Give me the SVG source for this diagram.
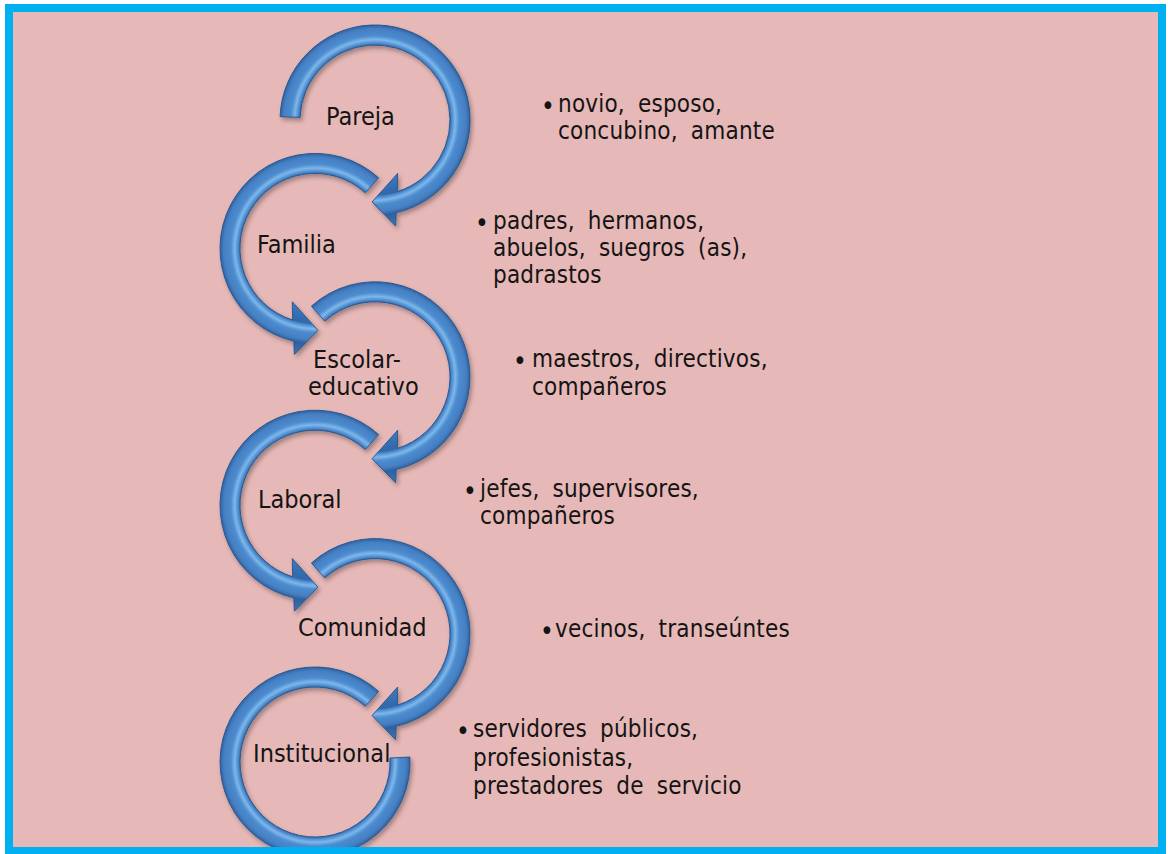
<svg xmlns="http://www.w3.org/2000/svg" xmlns:xlink="http://www.w3.org/1999/xlink" width="1168" height="854" viewBox="0 0 1168 854">
<style>
.arrow{stroke:#2A5890;stroke-width:1;filter:url(#sh)}
.lbl{font-family:"DejaVu Sans Condensed","DejaVu Sans",sans-serif;font-stretch:condensed;font-size:25px;fill:#141414}
.desc{font-family:"DejaVu Sans Condensed","DejaVu Sans",sans-serif;font-stretch:condensed;font-size:24px;fill:#141414;word-spacing:6px;letter-spacing:0.2px}
.bul{font-family:"DejaVu Sans Condensed","DejaVu Sans",sans-serif;font-stretch:condensed;font-size:26px;fill:#141414}
</style>
<defs>
<radialGradient id="gb" gradientUnits="userSpaceOnUse" r="110">
<stop offset="0.5" stop-color="#3F7DC2"/>
<stop offset="0.68" stop-color="#3068AA"/>
<stop offset="0.70" stop-color="#4F8DCF"/>
<stop offset="0.73" stop-color="#7DB7EB"/>
<stop offset="0.765" stop-color="#4D8CCF"/>
<stop offset="0.83" stop-color="#447FC2"/>
<stop offset="0.865" stop-color="#2E609F"/>
<stop offset="1" stop-color="#3D79BD"/>
</radialGradient>
<radialGradient id="g1" xlink:href="#gb" cx="375" cy="120" fx="375" fy="120"/>
<radialGradient id="g2" xlink:href="#gb" cx="315" cy="248.4" fx="315" fy="248.4"/>
<radialGradient id="g3" xlink:href="#gb" cx="375" cy="376.8" fx="375" fy="376.8"/>
<radialGradient id="g4" xlink:href="#gb" cx="315" cy="505.2" fx="315" fy="505.2"/>
<radialGradient id="g5" xlink:href="#gb" cx="375" cy="633.6" fx="375" fy="633.6"/>
<radialGradient id="g6" xlink:href="#gb" cx="315" cy="762" fx="315" fy="762"/>
<filter id="sh" x="-20%" y="-20%" width="140%" height="140%">
<feDropShadow dx="2" dy="3" stdDeviation="2" flood-color="#000" flood-opacity="0.3"/>
</filter>
</defs>
<rect x="0" y="0" width="1168" height="854" fill="#FFFFFF"/>
<rect x="9" y="8" width="1153" height="843" fill="#E6B8B7"/>

<g id="node-pareja">
<path class="arrow" fill="url(#g1)" d="M 280.1 116.7 A 95 95 0 1 1 396.2 212.6 L 395.6 226 L 372.1 201.95 L 397.7 173.4 L 397.3 191.6 A 75 75 0 1 0 300.05 117.4 Z"/>
<text class="lbl" x="326" y="125">Pareja</text>
<text class="bul" x="541" y="115">•</text>
<text class="desc" x="558" y="112">novio, esposo,</text>
<text class="desc" x="558" y="139">concubino, amante</text>
</g>

<g id="node-familia">
<path class="arrow" fill="url(#g2)" d="M 378.6 177.8 A 95 95 0 1 0 293.8 341.0 L 294.4 354.4 L 317.9 330.35 L 292.3 301.8 L 292.7 320.0 A 75 75 0 1 1 365.2 192.7 Z"/>
<text class="lbl" x="257" y="253">Familia</text>
<text class="bul" x="475" y="232">•</text>
<text class="desc" x="493" y="229">padres, hermanos,</text>
<text class="desc" x="493" y="256">abuelos, suegros (as),</text>
<text class="desc" x="493" y="283">padrastos</text>
</g>

<g id="node-escolar">
<path class="arrow" fill="url(#g3)" d="M 311.4 306.2 A 95 95 0 1 1 396.2 469.4 L 395.6 482.8 L 372.1 458.75 L 397.7 430.2 L 397.3 448.4 A 75 75 0 1 0 324.8 321.1 Z"/>
<text class="lbl" x="313" y="368">Escolar-</text>
<text class="lbl" x="308" y="395">educativo</text>
<text class="bul" x="513" y="370">•</text>
<text class="desc" x="532" y="367">maestros, directivos,</text>
<text class="desc" x="532" y="395">compañeros</text>
</g>

<g id="node-laboral">
<path class="arrow" fill="url(#g4)" d="M 378.6 434.6 A 95 95 0 1 0 293.8 597.8 L 294.4 611.2 L 317.9 587.15 L 292.3 558.6 L 292.7 576.8 A 75 75 0 1 1 365.2 449.5 Z"/>
<text class="lbl" x="258" y="508">Laboral</text>
<text class="bul" x="463" y="500">•</text>
<text class="desc" x="480" y="497">jefes, supervisores,</text>
<text class="desc" x="480" y="524">compañeros</text>
</g>

<g id="node-comunidad">
<path class="arrow" fill="url(#g5)" d="M 311.4 563.0 A 95 95 0 1 1 396.2 726.2 L 395.6 739.6 L 372.1 715.55 L 397.7 687.0 L 397.3 705.2 A 75 75 0 1 0 324.8 577.9 Z"/>
<text class="lbl" x="298" y="636">Comunidad</text>
<text class="bul" x="540" y="640">•</text>
<text class="desc" x="555" y="637">vecinos, transeúntes</text>
</g>

<g id="node-institucional">
<path class="arrow" fill="url(#g6)" d="M 378.6 691.4 A 95 95 0 1 0 409.9 757.0 L 389.9 758.1 A 75 75 0 1 1 365.2 706.3 Z"/>
<text class="lbl" x="253" y="762">Institucional</text>
<text class="bul" x="456" y="740">•</text>
<text class="desc" x="473" y="737">servidores públicos,</text>
<text class="desc" x="473" y="766">profesionistas,</text>
<text class="desc" x="473" y="794">prestadores de servicio</text>
</g>

<g id="connectors"></g>

<rect x="9" y="8" width="1153" height="843" fill="none" stroke="#00B0F0" stroke-width="8"/>
</svg>
